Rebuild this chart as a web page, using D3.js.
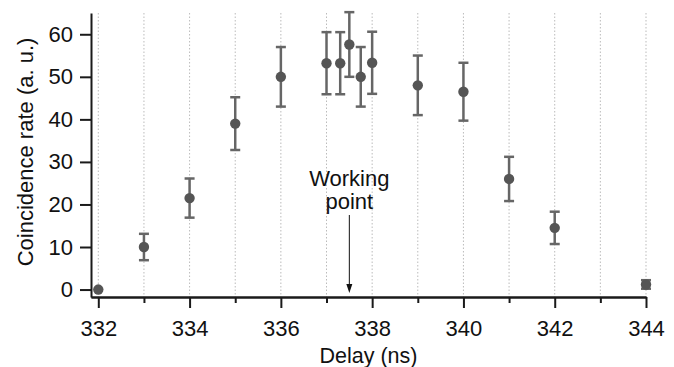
<!DOCTYPE html>
<html>
<head>
<meta charset="utf-8">
<script src="https://cdn.jsdelivr.net/npm/d3@7"></script>
<style>
  body { margin: 0; background: #fff; }
  text { font-family: "Liberation Sans", Arial, sans-serif; }
</style>
</head>
<body>
<div id="container"></div>
<script>
const WIDTH = 674;
const HEIGHT = 367;
const MARGIN = {top: 13, right: 28, bottom: 70, left: 91};

const INNER_WIDTH = WIDTH - MARGIN.left - MARGIN.right;
const INNER_HEIGHT = HEIGHT - MARGIN.top - MARGIN.bottom;

// measured delays (ns), coincidence rate (a. u.) and error bars
var delays = [332, 333, 334, 335, 336, 337, 337.3, 337.5, 337.75, 338, 339, 340, 341, 342, 344];
var rates  = [0, 10, 21.5, 39, 50, 53.2, 53.2, 57.6, 50, 53.3, 48, 46.5, 26, 14.5, 1.2];
var errors = [0, 3.1, 4.6, 6.2, 7, 7.3, 7.3, 7.6, 7, 7.3, 7, 6.8, 5.2, 3.8, 1];

var xMajorTicks = [332, 334, 336, 338, 340, 342, 344];
var xMinorTicks = [333, 335, 337, 339, 341, 343];
var gridValues = [332, 333, 334, 335, 336, 337, 338, 339, 340, 341, 342, 343, 344];
var yTicks = [0, 10, 20, 30, 40, 50, 60];

var workingPoint = 337.5;

var translate = function (x, y) {
    return "translate(" + x + "," + y + ")";
};

var createChart = function () {
    var data = delays.map(function (d, i) {
        return {x: d, y: rates[i], e: errors[i]};
    });

    var svg = d3.select("#container")
        .append("svg")
        .attr("width", WIDTH)
        .attr("height", HEIGHT);

    var xScale = d3.scaleLinear().domain([331.84, 344]).range([0, INNER_WIDTH]);
    var yScale = d3.scaleLinear().domain([-1.75, 65]).range([INNER_HEIGHT, 0]);

    var g = svg.append("g").attr("transform", translate(MARGIN.left, MARGIN.top));

    // dotted vertical grid
    g.selectAll(".grid").data(gridValues)
        .enter()
        .append("line")
        .attr("x1", function (d) { return xScale(d); })
        .attr("x2", function (d) { return xScale(d); })
        .attr("y1", 0)
        .attr("y2", INNER_HEIGHT)
        .attr("stroke", "#bbb")
        .attr("stroke-width", 1)
        .attr("stroke-dasharray", "1.5,2");

    // axes
    var xAxis = d3.axisBottom(xScale)
        .tickValues(xMajorTicks)
        .tickFormat(d3.format("d"))
        .tickSizeInner(11)
        .tickSizeOuter(0)
        .tickPadding(12);
    var xMinor = d3.axisBottom(xScale)
        .tickValues(xMinorTicks)
        .tickFormat("")
        .tickSizeInner(6)
        .tickSizeOuter(0);
    var yAxis = d3.axisLeft(yScale)
        .tickValues(yTicks)
        .tickSizeInner(11)
        .tickSizeOuter(0)
        .tickPadding(7);

    var gx = g.append("g").attr("transform", translate(0, INNER_HEIGHT)).call(xAxis);
    var gxm = g.append("g").attr("transform", translate(0, INNER_HEIGHT)).call(xMinor);
    var gy = g.append("g").call(yAxis);

    [gx, gxm, gy].forEach(function (a) {
        a.select(".domain").attr("stroke", "#1a1a1a").attr("stroke-width", 2);
        a.selectAll(".tick line").attr("stroke", "#1a1a1a").attr("stroke-width", 2);
        a.selectAll(".tick text")
            .attr("font-size", 22)
            .attr("fill", "#111")
            .style("font-family", "'Liberation Sans', Arial, sans-serif");
    });

    // error bars
    var bars = g.selectAll(".err").data(data.filter(function (d) { return d.e > 0; }))
        .enter()
        .append("g")
        .attr("stroke", "#666")
        .attr("stroke-width", 2.5);
    bars.append("line")
        .attr("x1", function (d) { return xScale(d.x); })
        .attr("x2", function (d) { return xScale(d.x); })
        .attr("y1", function (d) { return yScale(d.y + d.e); })
        .attr("y2", function (d) { return yScale(d.y - d.e); });
    [1, -1].forEach(function (s) {
        bars.append("line")
            .attr("x1", function (d) { return xScale(d.x) - 5; })
            .attr("x2", function (d) { return xScale(d.x) + 5; })
            .attr("y1", function (d) { return yScale(d.y + s * d.e); })
            .attr("y2", function (d) { return yScale(d.y + s * d.e); });
    });

    // markers
    g.selectAll(".pt").data(data)
        .enter()
        .append("circle")
        .attr("cx", function (d) { return xScale(d.x); })
        .attr("cy", function (d) { return yScale(d.y); })
        .attr("r", 5.2)
        .attr("fill", "#555");

    // working point annotation
    var wx = xScale(workingPoint);
    g.append("text")
        .attr("x", wx)
        .attr("y", 173)
        .attr("text-anchor", "middle")
        .attr("font-size", 22)
        .attr("fill", "#111")
        .text("Working");
    g.append("text")
        .attr("x", wx)
        .attr("y", 196)
        .attr("text-anchor", "middle")
        .attr("font-size", 22)
        .attr("fill", "#111")
        .text("point");
    g.append("line")
        .attr("x1", wx).attr("x2", wx)
        .attr("y1", 202).attr("y2", 272)
        .attr("stroke", "#111")
        .attr("stroke-width", 1);
    g.append("path")
        .attr("d", "M" + (wx - 3) + "," + 271 + "L" + (wx + 3) + "," + 271 + "L" + wx + "," + 280 + "Z")
        .attr("fill", "#111");

    // axis titles
    svg.append("text")
        .attr("x", MARGIN.left + INNER_WIDTH / 2)
        .attr("y", 363)
        .attr("text-anchor", "middle")
        .attr("font-size", 21.5)
        .attr("fill", "#111")
        .text("Delay (ns)");
    svg.append("text")
        .attr("transform", translate(33, 152) + " rotate(-90)")
        .attr("text-anchor", "middle")
        .attr("font-size", 22)
        .attr("fill", "#111")
        .text("Coincidence rate (a. u.)");
};

window.onload = createChart;
</script>
</body>
</html>
